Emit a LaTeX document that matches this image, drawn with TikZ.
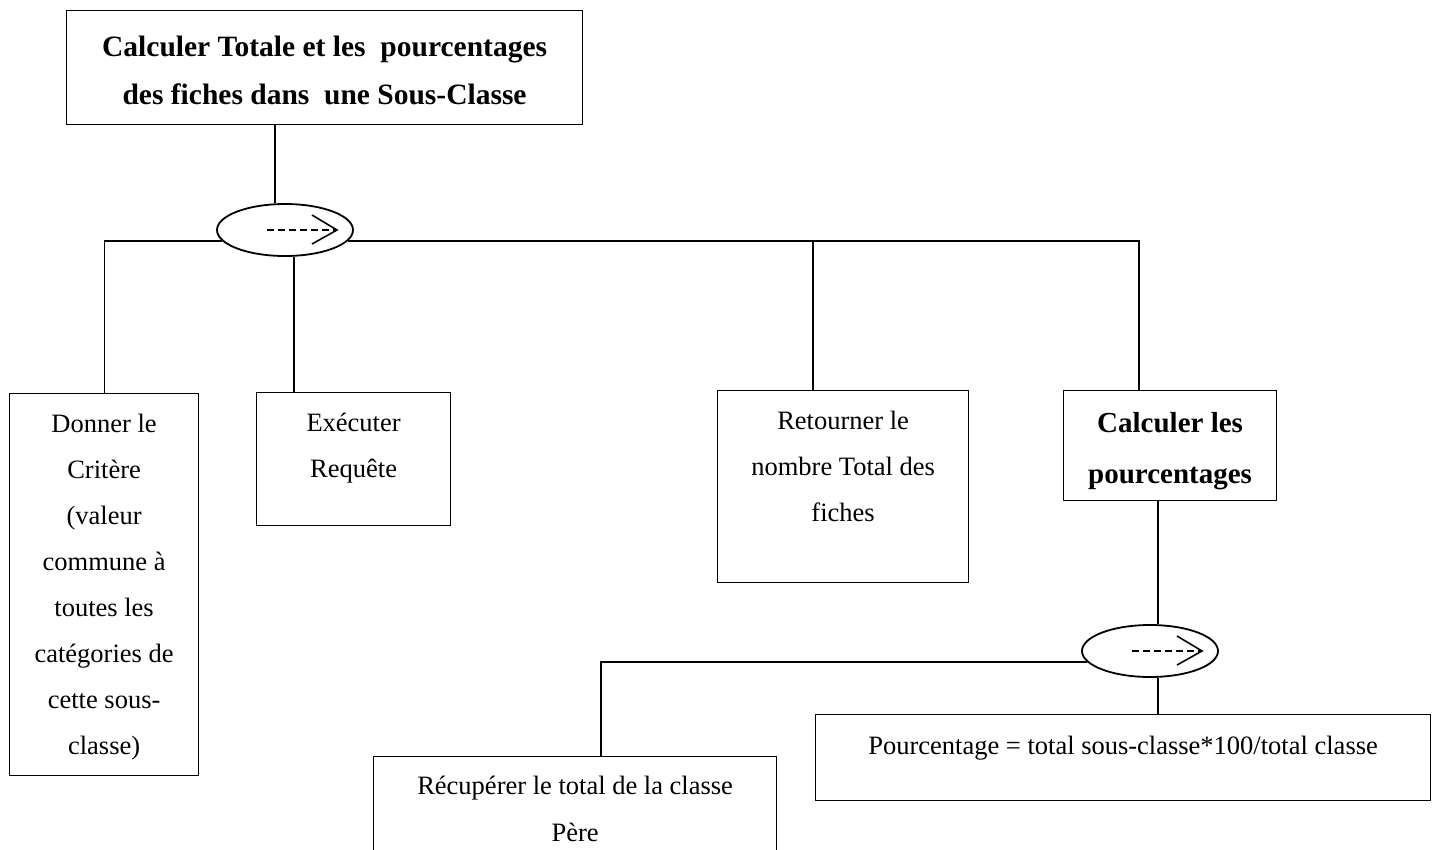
\documentclass[tikz,border=0pt]{standalone}
\usepackage{fontspec}
\setmainfont{Liberation Serif}
\usetikzlibrary{shapes.geometric,calc}
\newcommand{\mybx}[4]{\parbox[t][#2][t]{#1}{\centering\rule{0pt}{#3}#4}}
\tikzset{
  box/.style={draw, line width=1.2pt, inner sep=0pt, anchor=north west, rectangle},
  ell/.style={draw, ellipse, line width=1.8pt, minimum width=136pt, minimum height=52pt, inner sep=0pt},
  conn/.style={line width=1.2pt},
  dsh/.style={line width=1.6pt, dash pattern=on 7pt off 4pt},
  head/.style={line width=1.6pt},
  body/.style={font={\fontsize{26.5}{46}\selectfont}},
  bbody/.style={font={\fontsize{29.5}{48}\selectfont\bfseries}}
}
\begin{document}
\begin{tikzpicture}[x=1pt,y=-1pt]
\useasboundingbox (0,0) rectangle (1435,849);
% boxes
\node[box,bbody] (tb) at (66,10) {\mybx{516pt}{114pt}{46pt}{Calculer Totale et les\ \ pourcentages\\des fiches dans\ \ une Sous-Classe}};
\node[box,body] (b1) at (9,393) {\mybx{189pt}{382pt}{39pt}{Donner le\\Critère\\(valeur\\commune à\\toutes les\\catégories de\\cette sous-\\classe)}};
\node[box,body] (b2) at (256,392) {\mybx{194pt}{133pt}{39pt}{Exécuter\\Requête}};
\node[box,body] (b3) at (717,390) {\mybx{251pt}{192pt}{39pt}{Retourner le\\nombre Total des\\fiches}};
\node[box,font={\fontsize{29}{51}\selectfont\bfseries}] (b4) at (1063,390) {\mybx{213pt}{110pt}{42pt}{Calculer les\\pourcentages}};
\node[box,body] (b5) at (815,714) {\mybx{615pt}{86pt}{40pt}{Pourcentage = total sous-classe*100/total classe}};
\node[box,font={\fontsize{26.5}{47}\selectfont}] (b6) at (373,756) {\mybx{403pt}{130pt}{38pt}{Récupérer le total de la classe\\Père}};
% ellipses
\node[ell] (e1) at (285,230) {};
\node[ell] (e2) at (1150,651) {};
\foreach \e in {e1,e2}{
  \draw[dsh] ([xshift=-18pt]\e.center) -- ([xshift=50pt]\e.center);
  \draw[head] ([xshift=27pt,yshift=15pt]\e.center) -- ([xshift=52pt]\e.center) -- ([xshift=27pt,yshift=-14pt]\e.center);
}
% junction coordinates
\coordinate (jt) at ([xshift=-10pt]e1.north);
\coordinate (j2) at ([xshift=38pt]b2.north west);
\coordinate (j3) at ([xshift=96pt]b3.north west);
\coordinate (j4n) at ([xshift=76pt]b4.north west);
\coordinate (j4) at ([xshift=95pt]b4.south west);
\coordinate (j5) at ([xshift=343pt]b5.north west);
\coordinate (j6) at ([xshift=228pt]b6.north west);
% connectors
\draw[conn] (jt |- tb.south) -- (jt);
\draw[conn] (e1.190) -| (b1.north);
\draw[conn] (e1.-10) -| (j4n);
\draw[conn] (j2) -- (j2 |- e1.south);
\draw[conn] (j3) -- (j3 |- e1.-10);
\draw[conn] (j4) -- (j4 |- e2.north);
\draw[conn] (e2.190) -| (j6);
\draw[conn] (j5) -- (j5 |- e2.south);
\end{tikzpicture}
\end{document}
